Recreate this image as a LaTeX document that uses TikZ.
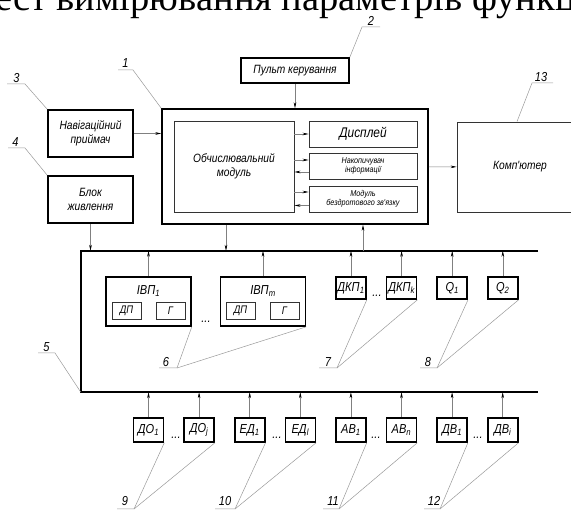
\documentclass[tikz,border=0pt]{standalone}
\usepackage{fontspec}
\setmainfont{Liberation Serif}
\newfontfamily\gost[FakeStretch=0.85]{Liberation Sans}
\usetikzlibrary{arrows.meta}
\newcommand{\idx}[1]{\textsubscript{#1}}

\tikzset{
  block/.style={rectangle, draw, line width=1.6pt, inner sep=1pt, align=center, font=\gost\itshape\fontsize{12}{14}\selectfont},
  subbox/.style={rectangle, draw=black!80, line width=0.9pt, inner sep=1pt, align=center, font=\gost\itshape\fontsize{12}{14}\selectfont},
  smalltext/.style={font=\gost\itshape\fontsize{8.5}{9.5}\selectfont},
  cell/.style={block, minimum width=30pt, font=\gost\itshape\fontsize{13}{13}\selectfont},
  arrow/.style={-{Stealth[length=6pt, width=2.6pt, color=black]}, draw=gray, line width=0.5pt},
  leader/.style={draw=gray!80, line width=0.5pt},
  num/.style={inner sep=0pt, font=\gost\itshape\fontsize{13}{13}\selectfont},
}

\begin{document}
\begin{tikzpicture}[x=1pt, y=-1pt, node distance=50.6pt]
  \useasboundingbox (0,0) rectangle (571,510);
  \clip (0,0) rectangle (571,510);

  \node[anchor=base west, inner sep=0pt, font=\fontsize{38.5}{38.5}\selectfont] (title) at (-5,11) {ест вимірювання параметрів функці};

  \node[block, minimum width=108pt, minimum height=25pt] (pult) at (295,70.5) {Пульт керування};
  \node[block, minimum width=266pt, minimum height=115pt] (main) at (295,166.5) {};
  \node[subbox, minimum width=120pt, minimum height=91pt] (calc) at (234,166.5) {Обчислювальний\\модуль};
  \node[subbox, minimum width=108pt, minimum height=26pt, font=\gost\itshape\fontsize{14}{14}\selectfont] (disp) at (363,134) {Дисплей};
  \node[subbox, smalltext, minimum width=108pt, minimum height=26pt] (store) at (363,166) {Накопичувач\\інформації};
  \node[subbox, smalltext, minimum width=108pt, minimum height=26pt] (radio) at (363,199) {Модуль\\бездротового зв'язку};
  \node[block, minimum width=85pt, minimum height=47pt] (nav) at (90.5,133.5) {Навігаційний\\приймач};
  \node[block, minimum width=85pt, minimum height=47pt] (power) at (90.5,199.5) {Блок\\живлення};
  \node[subbox, minimum width=126pt, minimum height=90pt] (pc) at (520,167) {Комп'ютер};

  \node[minimum width=457pt, minimum height=141pt] (bus) at (309.5,321.5) {};
  \draw[line width=1.6pt] (bus.north east) -- (bus.north west) -- (bus.south west) -- (bus.south east);

  \node[block, minimum width=85pt, minimum height=49pt] (ivp1) at (148.5,301.5) {};
  \node[num] (ivp1t) at (148.5,291) {ІВП\idx{1}};
  \node[subbox, minimum width=29pt, minimum height=17pt, font=\gost\itshape\fontsize{11}{11}\selectfont] (dp1) at (126.5,310.5) {ДП};
  \node[subbox, minimum width=29pt, minimum height=17pt, font=\gost\itshape\fontsize{11}{11}\selectfont] (g1) at (170.5,310.5) {Г};
  \node[num] (dots0) at (206,322) {...};
  \node[block, minimum width=85pt, minimum height=49pt] (ivpm) at (263,301.5) {};
  \node[num] (ivpmt) at (263,291) {ІВП\idx{m}};
  \node[subbox, minimum width=29pt, minimum height=17pt, font=\gost\itshape\fontsize{11}{11}\selectfont] (dpm) at (240.5,310.5) {ДП};
  \node[subbox, minimum width=29pt, minimum height=17pt, font=\gost\itshape\fontsize{11}{11}\selectfont] (gm) at (284.5,310.5) {Г};

  \node[cell, minimum height=22pt] (dkp1) at (351,288) {ДКП\idx{1}};
  \node[cell, minimum height=22pt, right of=dkp1] (dkpk) {ДКП\idx{k}};
  \node[cell, minimum height=22pt, right of=dkpk] (q1) {Q\idx{1}};
  \node[cell, minimum height=22pt, right of=q1] (q2) {Q\idx{2}};
  \node[num] (dots1) at (377,296) {...};

  \node[cell, minimum height=24pt] (do1) at (148.5,430) {ДО\idx{1}};
  \node[cell, minimum height=24pt, right of=do1] (doj) {ДО\idx{j}};
  \node[cell, minimum height=24pt, right of=doj] (ed1) {ЕД\idx{1}};
  \node[cell, minimum height=24pt, right of=ed1] (edl) {ЕД\idx{l}};
  \node[cell, minimum height=24pt, right of=edl] (av1) {АВ\idx{1}};
  \node[cell, minimum height=24pt, right of=av1] (avn) {АВ\idx{n}};
  \node[cell, minimum height=24pt, right of=avn] (dv1) {ДВ\idx{1}};
  \node[cell, minimum height=24pt, right of=dv1] (dvi) {ДВ\idx{i}};
  \node[num] (dots2) at (176,438) {...};
  \node[num] (dots3) at (277,438) {...};
  \node[num] (dots4) at (376,438) {...};
  \node[num] (dots5) at (478,438) {...};

  \draw[arrow] (pult) -- (main);
  \draw[arrow] (nav) -- (nav -| main.west);
  \draw[arrow] (main) -- (pc);
  \draw[arrow] (calc.east |- disp) -- (disp.west);
  \draw[arrow] ([yshift=6pt]calc.east |- store) -- ([yshift=6pt]store.west);
  \draw[arrow] ([yshift=-6pt]store.west) -- ([yshift=-6pt]calc.east |- store);
  \draw[arrow] ([yshift=7pt]calc.east |- radio) -- ([yshift=7pt]radio.west);
  \draw[arrow] ([yshift=-6.5pt]radio.west) -- ([yshift=-6.5pt]calc.east |- radio);
  \draw[arrow] (power) -- (power |- bus.north);
  \draw[arrow] ([xshift=-69pt]main.south) -- ([xshift=-69pt]main.south |- bus.north);
  \draw[arrow] (disp |- bus.north) -- (disp |- main.south);
  \draw[arrow] (ivp1) -- (ivp1 |- bus.north);
  \draw[arrow] (ivpm) -- (ivpm |- bus.north);
  \draw[arrow] (dkp1) -- (dkp1 |- bus.north);
  \draw[arrow] (dkpk) -- (dkpk |- bus.north);
  \draw[arrow] (q1) -- (q1 |- bus.north);
  \draw[arrow] (q2) -- (q2 |- bus.north);
  \draw[arrow] (do1) -- (do1 |- bus.south);
  \draw[arrow] (doj) -- (doj |- bus.south);
  \draw[arrow] (ed1) -- (ed1 |- bus.south);
  \draw[arrow] (edl) -- (edl |- bus.south);
  \draw[arrow] (av1) -- (av1 |- bus.south);
  \draw[arrow] (avn) -- (avn |- bus.south);
  \draw[arrow] (dv1) -- (dv1 |- bus.south);
  \draw[arrow] (dvi) -- (dvi |- bus.south);

  \node[num] (n1) at (125.5,63) {1};
  \coordinate (c1) at (133,70);
  \draw[leader] (118,70) -- (c1) -- (main.north west);
  \node[num] (n2) at (371,21) {2};
  \coordinate (c2) at (362,27);
  \draw[leader] (380,27) -- (c2) -- (pult.north east);
  \node[num] (n3) at (16.5,78) {3};
  \coordinate (c3) at (25,84);
  \draw[leader] (7,84) -- (c3) -- (nav.north west);
  \node[num] (n4) at (15.5,142) {4};
  \coordinate (c4) at (25,148);
  \draw[leader] (8,148) -- (c4) -- (power.north west);
  \node[num] (n5) at (46.5,347) {5};
  \coordinate (c5) at (55,353);
  \draw[leader] (38,353) -- (c5) -- (bus.south west);
  \node[num] (n13) at (541,77) {13};
  \coordinate (c13) at (532,83);
  \draw[leader] (553,83) -- (c13) -- ([xshift=-3pt]pc.north);
  \node[num] (n6) at (166,362) {6};
  \coordinate (c6) at (177,368);
  \draw[leader] (159,368) -- (c6) -- (ivp1.south east);
  \draw[leader] (c6) -- (ivpm.south east);
  \node[num] (n7) at (328,362) {7};
  \coordinate (c7) at (337,368);
  \draw[leader] (319,368) -- (c7) -- (dkp1.south east);
  \draw[leader] (c7) -- (dkpk.south east);
  \node[num] (n8) at (428,362) {8};
  \coordinate (c8) at (437,368);
  \draw[leader] (420,368) -- (c8) -- (q1.south east);
  \draw[leader] (c8) -- (q2.south east);
  \node[num] (n9) at (125,501) {9};
  \coordinate (c9) at (134,509);
  \draw[leader] (117,509) -- (c9) -- (do1.south east);
  \draw[leader] (c9) -- (doj.south east);
  \node[num] (n10) at (225,501) {10};
  \coordinate (c10) at (235,509);
  \draw[leader] (215,509) -- (c10) -- (ed1.south east);
  \draw[leader] (c10) -- (edl.south east);
  \node[num] (n11) at (333,501) {11};
  \coordinate (c11) at (339,509);
  \draw[leader] (323,509) -- (c11) -- (av1.south east);
  \draw[leader] (c11) -- (avn.south east);
  \node[num] (n12) at (434,501) {12};
  \coordinate (c12) at (440,509);
  \draw[leader] (424,509) -- (c12) -- (dv1.south east);
  \draw[leader] (c12) -- (dvi.south east);
\end{tikzpicture}
\end{document}
